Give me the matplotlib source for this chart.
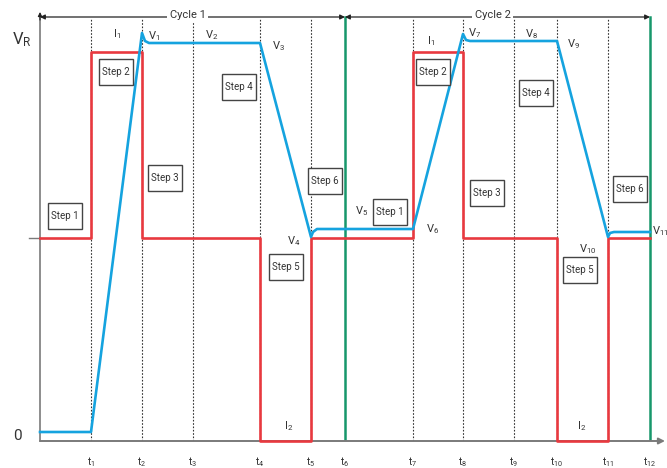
import matplotlib.pyplot as plt
from matplotlib.patches import Rectangle

plt.rcParams['font.family'] = ['Roboto', 'DejaVu Sans']

# time instants t1..t12 (arbitrary units along the x axis)
t = [51, 102, 153, 220, 271, 305, 373, 423, 474, 517, 568, 610]
t1, t2, t3, t4, t5, t6, t7, t8, t9, t10, t11, t12 = t
x_end = 625
y_top = 429

# voltage levels (blue)
v_zero = 9
v1, v2, v4, v_rest = 408, 398, 204, 212
v7, v8, v10, v11 = 407, 400, 204, 209

# current levels (red)
i_rest, i1, i2 = 203, 389, 0

volt_x = [0, t1, t2, t2 + 3, t2 + 7, t4, t5, t5 + 2, t5 + 6, t7,
          t8, t8 + 3, t8 + 7, t10, t11, t11 + 2, t11 + 6, t12]
volt_y = [v_zero, v_zero, v1, v2 + 2, v2, v2, v4, v_rest - 3, v_rest, v_rest,
          v7, v8 + 1, v8, v8, v10, v11 - 1, v11, v11]

curr_x = [0, t1, t1, t2, t2, t4, t4, t5, t5, t7, t7, t8, t8, t10, t10, t11, t11, t12]
curr_y = [i_rest, i_rest, i1, i1, i_rest, i_rest, i2, i2, i_rest, i_rest,
          i1, i1, i_rest, i_rest, i2, i2, i_rest, i_rest]

step_names = ['Step 1', 'Step 2', 'Step 3', 'Step 4', 'Step 5', 'Step 6'] * 2
step_pos = [(25, 225), (76, 369), (125, 263), (199, 354), (246, 174), (285, 260),
            (350, 229), (393, 369), (447, 248), (496, 348), (540, 171), (590, 252)]

point_labels = ['V_1', 'V_2', 'V_3', 'V_4', 'V_5', 'V_6', 'V_7', 'V_8', 'V_9',
                'V_{10}', 'V_{11}', 'I_1', 'I_1', 'I_2', 'I_2']
point_pos = [(108, 405), (165, 406), (232, 395), (247, 200), (315, 230), (386, 212),
             (428, 408), (485, 407), (527, 397), (539, 192), (612, 210),
             (73, 407), (387, 400), (244, 15), (537, 15)]

red = '#e8393f'
blue = '#15a3df'
green = '#17976b'
gray = '#7a7a7a'

fig = plt.figure(figsize=(6.67, 4.68), dpi=100)
ax = fig.add_axes([40 / 667, 27 / 468, x_end / 667, y_top / 468])
ax.set_xlim(0, x_end)
ax.set_ylim(0, y_top)
ax.axis('off')

# dotted time markers
for tx in [t1, t2, t3, t4, t5, t7, t8, t9, t10, t11]:
    ax.plot([tx, tx], [0, 423], ls=(0, (1.5, 1.5)), color='#333333', lw=0.8, zorder=1)

# cycle boundaries
for tx in [t6, t12]:
    ax.plot([tx, tx], [0, 424], color=green, lw=1.8, zorder=2)

# axes with arrows
ax.annotate('', xy=(x_end, 0), xytext=(0, 0), annotation_clip=False,
            arrowprops=dict(arrowstyle='-|>', color=gray, lw=1.4, mutation_scale=9,
                            shrinkA=0, shrinkB=0))
ax.plot([0, 0], [0, y_top - 4], color=gray, lw=1.2, clip_on=False, zorder=2)
ax.plot([-11, 0], [i_rest, i_rest], color=gray, lw=1.0, clip_on=False)

# cycle arrows
for a, b, name in [(0, t6, 'Cycle 1'), (t6, t12, 'Cycle 2')]:
    ax.annotate('', xy=(b, 424), xytext=(a, 424), annotation_clip=False,
                arrowprops=dict(arrowstyle='<|-|>', color='#222222', lw=0.9,
                                mutation_scale=7, shrinkA=0, shrinkB=0))
    ax.text((a + b) / 2 - 5, 426, name, ha='center', va='center', fontsize=8,
            color='#333333', bbox=dict(fc='white', ec='none', pad=1.5), zorder=5)
ax.annotate('', xy=(0, y_top), xytext=(0, y_top - 8), annotation_clip=False,
            arrowprops=dict(arrowstyle='-|>', color='#222222', lw=0.8,
                            mutation_scale=6, shrinkA=0, shrinkB=0))

ax.plot(curr_x, curr_y, color=red, lw=1.9, clip_on=False, zorder=3)
ax.plot(volt_x, volt_y, color=blue, lw=1.9, clip_on=False, zorder=4)

# step boxes
for name, (cx, cy) in zip(step_names, step_pos):
    ax.add_patch(Rectangle((cx - 17, cy - 13), 34, 26, fc='white', ec='#444444',
                           lw=1.0, zorder=6))
    ax.text(cx, cy, name, ha='center', va='center', fontsize=7, color='#333333', zorder=7)

for lab, (px, py) in zip(point_labels, point_pos):
    ax.text(px, py, r'$\mathregular{%s}$' % lab, ha='left', va='center',
            fontsize=8, color='#333333', clip_on=False)

# time tick labels
for k, tx in enumerate(t):
    ax.text(tx, -21, r'$\mathregular{t_{%d}}$' % (k + 1), ha='center', va='center',
            fontsize=7.5, color='#333333', clip_on=False)

ax.text(-28, 401, r'$\mathregular{V_R}$', ha='left', va='center', fontsize=12,
        color='#333333', clip_on=False)
ax.text(-23, 5, '0', ha='center', va='center', fontsize=11, color='#333333', clip_on=False)

fig.savefig('out.png', dpi=100)
